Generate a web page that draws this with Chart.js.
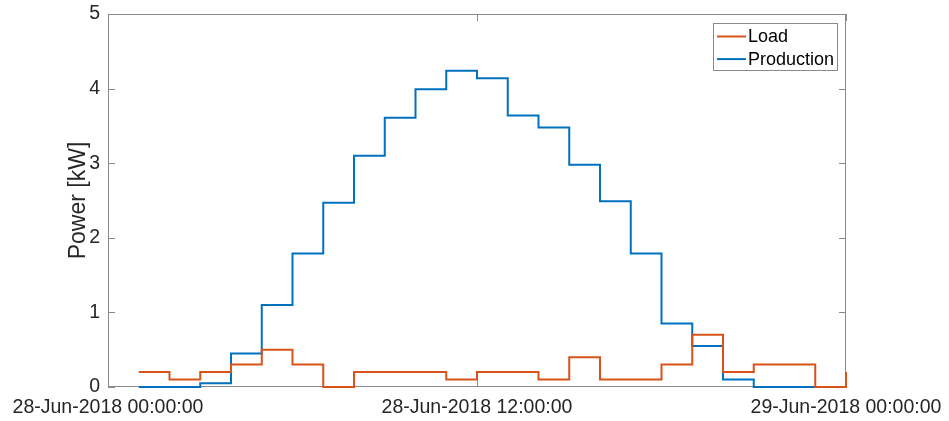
<!DOCTYPE html>
<html>
<head>
<meta charset="utf-8">
<script src="https://cdn.jsdelivr.net/npm/chart.js@4/dist/chart.umd.min.js"></script>
<style>
  html, body { margin: 0; padding: 0; background: #ffffff; }
  #wrap { width: 949px; height: 421px; }
</style>
</head>
<body>
<div id="wrap"><canvas id="c" width="949" height="421"></canvas></div>
<script>
// Hourly samples for 28-Jun-2018 (hours since midnight)
const loadHours = [1,2,3,4,5,6,7,8,9,10,11,12,13,14,15,16,17,18,19,20,21,22,23,24];
const loadKW    = [0.2,0.1,0.2,0.3,0.5,0.3,0,0.2,0.2,0.2,0.1,0.2,0.2,0.1,0.4,0.1,0.1,0.3,0.7,0.2,0.3,0.3,0,0.2];

const prodHours = [1,2,3,4,5,6,7,8,9,10,11,12,13,14,15,16,17,18,19,20,21,22,23];
const prodKW    = [0,0,0.05,0.45,1.1,1.79,2.47,3.1,3.61,3.99,4.24,4.14,3.64,3.48,2.98,2.49,1.79,0.85,0.55,0.1,0,0,0];

const xTickHours  = [0, 12, 24];
const xTickLabels = ['28-Jun-2018 00:00:00', '28-Jun-2018 12:00:00', '29-Jun-2018 00:00:00'];
const yTicks      = [0, 1, 2, 3, 4, 5];

const FONT = '"Liberation Sans", Arial, Helvetica, sans-serif';
const TEXT = '#262626';
const AXIS = '#8a8a8a';

const toPoints = (xs, ys) => xs.map((x, i) => ({ x: x, y: ys[i] }));

// Axes box with inward tick marks on all four sides
const boxPlugin = {
  id: 'axesBox',
  beforeDatasetsDraw(chart) {
    const { ctx, chartArea: a, scales } = chart;
    const len = 7;
    ctx.save();
    ctx.strokeStyle = AXIS;
    ctx.lineWidth = 1;
    ctx.beginPath();
    ctx.rect(a.left + 0.5, a.top + 0.5, a.right - a.left - 1, a.bottom - a.top - 1);
    scales.x.ticks.forEach(t => {
      const px = Math.round(scales.x.getPixelForValue(t.value)) + 0.5;
      ctx.moveTo(px, a.bottom); ctx.lineTo(px, a.bottom - len);
      ctx.moveTo(px, a.top);    ctx.lineTo(px, a.top + len);
    });
    scales.y.ticks.forEach(t => {
      const py = Math.round(scales.y.getPixelForValue(t.value)) + 0.5;
      ctx.moveTo(a.left, py);  ctx.lineTo(a.left + len, py);
      ctx.moveTo(a.right, py); ctx.lineTo(a.right - len, py);
    });
    ctx.stroke();
    ctx.restore();
  }
};

// Legend drawn inside the upper-right corner of the plot area
const insideLegend = {
  id: 'insideLegend',
  afterDraw(chart) {
    const { ctx, chartArea: a } = chart;
    const sets = chart.data.datasets;
    const boxW = 124, boxH = 47, rowH = 22.6;
    const x0 = a.right - 9 - boxW, y0 = a.top + 9;
    ctx.save();
    ctx.fillStyle = '#ffffff';
    ctx.fillRect(x0, y0, boxW, boxH);
    ctx.strokeStyle = AXIS;
    ctx.lineWidth = 1;
    ctx.strokeRect(x0 + 0.5, y0 + 0.5, boxW, boxH);
    ctx.font = '18px ' + FONT;
    ctx.textBaseline = 'middle';
    ctx.textAlign = 'left';
    sets.forEach((ds, i) => {
      const cy = y0 + 13.5 + i * rowH;
      ctx.strokeStyle = ds.borderColor;
      ctx.lineWidth = 2;
      ctx.beginPath();
      ctx.moveTo(x0 + 4, cy);
      ctx.lineTo(x0 + 33, cy);
      ctx.stroke();
      ctx.fillStyle = '#000000';
      ctx.fillText(ds.label, x0 + 35, cy + 1);
    });
    ctx.restore();
  }
};

new Chart(document.getElementById('c'), {
  type: 'line',
  data: {
    datasets: [
      {
        label: 'Load',
        data: toPoints(loadHours, loadKW),
        borderColor: '#D95319',
        borderWidth: 2,
        stepped: 'before',
        pointRadius: 0,
        fill: false,
        clip: 4
      },
      {
        label: 'Production',
        data: toPoints(prodHours, prodKW),
        borderColor: '#0072BD',
        borderWidth: 2,
        stepped: 'before',
        pointRadius: 0,
        fill: false,
        clip: 4
      }
    ]
  },
  options: {
    responsive: false,
    animation: false,
    layout: { padding: { left: 0, right: 103, top: 14, bottom: 0 } },
    plugins: {
      legend: { display: false },
      tooltip: { enabled: false }
    },
    scales: {
      x: {
        type: 'linear',
        min: 0,
        max: 24,
        grid: { display: false, drawTicks: false },
        border: { display: false },
        afterBuildTicks: s => { s.ticks = xTickHours.map(v => ({ value: v })); },
        afterFit: s => { s.height = 34; s.paddingLeft = 0; s.paddingRight = 0; },
        ticks: {
          autoSkip: false,
          maxRotation: 0,
          padding: 9,
          color: TEXT,
          font: { family: FONT, size: 19.5 },
          callback: v => xTickLabels[xTickHours.indexOf(v)]
        }
      },
      y: {
        min: 0,
        max: 5,
        grid: { display: false, drawTicks: false },
        border: { display: false },
        afterBuildTicks: s => { s.ticks = yTicks.map(v => ({ value: v })); },
        afterFit: s => { s.width = 108; s.paddingTop = 0; s.paddingBottom = 0; },
        ticks: {
          padding: 8,
          color: TEXT,
          font: { family: FONT, size: 19.5 },
          callback: v => String(v)
        },
        title: {
          display: true,
          text: 'Power [kW]',
          color: TEXT,
          font: { family: FONT, size: 23, lineHeight: 1.2 },
          padding: { top: 65, bottom: 0 }
        }
      }
    }
  },
  plugins: [boxPlugin, insideLegend]
});
</script>
</body>
</html>
